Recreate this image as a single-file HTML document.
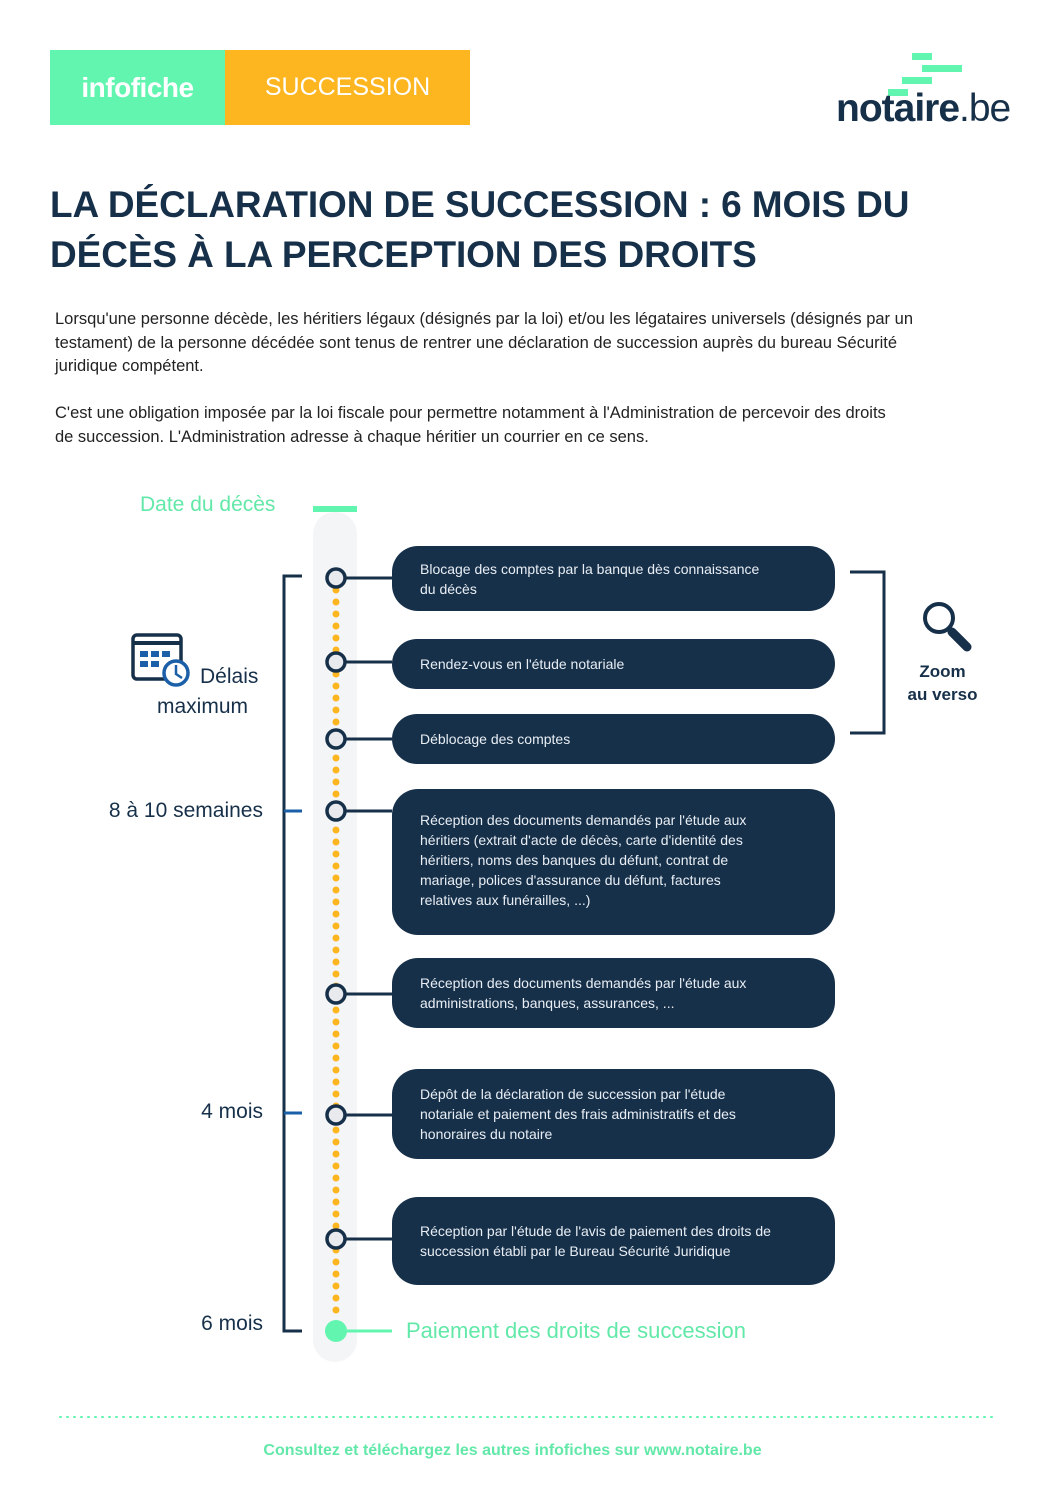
<!DOCTYPE html>
<html><head><meta charset="utf-8"><style>
body{margin:0;width:1058px;height:1497px;background:#fff;position:relative;font-family:"Liberation Sans",sans-serif;color:#17304a;overflow:hidden}
.a{position:absolute}
.box{position:absolute;left:392px;width:443px;background:#17304a;border-radius:26px;color:#e8eef4;font-size:14px;line-height:20px;display:flex;align-items:center;padding-left:28px;box-sizing:border-box;padding-right:62px}
.lbl{position:absolute;right:795px;font-size:21px;text-align:right}
</style></head><body>
<div class="a" style="left:50px;top:50px;width:175px;height:75px;background:#62f5b0;color:#fff;font-size:28px;font-weight:bold;display:flex;align-items:center;justify-content:center;letter-spacing:-0.5px">infofiche</div>
<div class="a" style="left:225px;top:50px;width:245px;height:75px;background:#fdb620;color:#fff;font-size:25px;display:flex;align-items:center;justify-content:center">SUCCESSION</div>
<svg class="a" style="left:880px;top:50px" width="90" height="50"><g fill="#62f5b0"><rect x="32" y="3" width="20" height="7"/><rect x="42" y="15" width="40" height="7"/><rect x="22" y="27" width="30" height="7"/><rect x="8" y="39" width="20" height="7"/></g></svg>
<div class="a" style="left:836px;top:87px;font-size:39px;letter-spacing:-1px"><b>notaire</b>.be</div>
<div class="a" style="left:50px;top:180px;font-size:37px;font-weight:bold;line-height:50px;letter-spacing:-0.1px">LA DÉCLARATION DE SUCCESSION : 6 MOIS DU<br>DÉCÈS À LA PERCEPTION DES DROITS</div>
<div class="a" style="left:55px;top:308px;width:980px;font-size:16.5px;line-height:23.5px;color:#222;white-space:nowrap">Lorsqu'une personne décède, les héritiers légaux (désignés par la loi) et/ou les légataires universels (désignés par un<br>testament) de la personne décédée sont tenus de rentrer une déclaration de succession auprès du bureau Sécurité<br>juridique compétent.<br><br>C'est une obligation imposée par la loi fiscale pour permettre notamment à l'Administration de percevoir des droits<br>de succession. L'Administration adresse à chaque héritier un courrier en ce sens.</div>
<div class="a" style="left:140px;top:493px;font-size:21px;color:#62e8a8">Date du décès</div>
<svg class="a" style="left:0;top:0" width="1058" height="1497">
<rect x="313" y="512" width="44" height="850" rx="22" fill="#f4f5f7"/>
<rect x="313" y="506" width="44" height="6" fill="#62f5b0"/>
<line x1="336" y1="590" x2="336" y2="1322" stroke="#fdb620" stroke-width="7" stroke-linecap="round" stroke-dasharray="0 12"/>
<g stroke="#17304a" stroke-width="3" fill="none">
<polyline points="302,576 284,576 284,1331 302,1331"/>
<polyline points="850,572 884,572 884,733 850,733"/>
<line x1="345" y1="578" x2="392" y2="578"/><line x1="345" y1="662" x2="392" y2="662"/><line x1="345" y1="739" x2="392" y2="739"/><line x1="345" y1="811" x2="392" y2="811"/><line x1="345" y1="994" x2="392" y2="994"/><line x1="345" y1="1115" x2="392" y2="1115"/><line x1="345" y1="1239" x2="392" y2="1239"/>
</g>
<g stroke="#1a5fa8" stroke-width="3"><line x1="284" y1="811" x2="302" y2="811"/><line x1="284" y1="1113" x2="302" y2="1113"/></g>
<g stroke="#17304a" stroke-width="3.5" fill="#e8eaee">
<circle cx="336" cy="578" r="9"/><circle cx="336" cy="662" r="9"/><circle cx="336" cy="739" r="9"/><circle cx="336" cy="811" r="9"/><circle cx="336" cy="994" r="9"/><circle cx="336" cy="1115" r="9"/><circle cx="336" cy="1239" r="9"/>
</g>
<line x1="345" y1="1331" x2="392" y2="1331" stroke="#62f5b0" stroke-width="3"/>
<circle cx="336" cy="1331" r="11" fill="#62f5b0"/>
<g fill="none" stroke="#17304a" stroke-width="4"><circle cx="939" cy="618" r="14"/></g>
<line x1="952" y1="632" x2="967" y2="647" stroke="#17304a" stroke-width="9" stroke-linecap="round"/>
<rect x="133" y="635" width="48" height="44" rx="4" fill="none" stroke="#17304a" stroke-width="3.5"/>
<line x1="133" y1="643" x2="181" y2="643" stroke="#17304a" stroke-width="4"/>
<g fill="#1a5fa8"><rect x="140" y="651" width="8" height="6"/><rect x="151" y="651" width="8" height="6"/><rect x="162" y="651" width="8" height="6"/><rect x="140" y="661" width="8" height="6"/><rect x="151" y="661" width="8" height="6"/></g>
<circle cx="176" cy="673" r="12" fill="#fff" stroke="#1a5fa8" stroke-width="3.5"/>
<polyline points="176,665 176,674 182,678" fill="none" stroke="#1a5fa8" stroke-width="2.5"/>
<line x1="60" y1="1417" x2="995" y2="1417" stroke="#62f5b0" stroke-width="2" stroke-dasharray="1 6" stroke-linecap="round"/>
</svg>
<div class="a" style="left:200px;top:665px;font-size:21px">Délais</div>
<div class="a" style="left:157px;top:695px;font-size:21px">maximum</div>
<div class="lbl" style="top:799px">8 à 10 semaines</div>
<div class="lbl" style="top:1100px">4 mois</div>
<div class="lbl" style="top:1312px">6 mois</div>
<div class="a" style="left:895px;top:660px;width:95px;text-align:center;font-size:17px;font-weight:bold;line-height:23px">Zoom<br>au verso</div>
<div class="box" style="top:546px;height:65px">Blocage des comptes par la banque dès connaissance du décès</div>
<div class="box" style="top:639px;height:50px">Rendez-vous en l'étude notariale</div>
<div class="box" style="top:714px;height:50px">Déblocage des comptes</div>
<div class="box" style="top:789px;height:146px;align-items:flex-start;padding-top:21px">Réception des documents demandés par l'étude aux héritiers (extrait d'acte de décès, carte d'identité des héritiers, noms des banques du défunt, contrat de mariage, polices d'assurance du défunt, factures relatives aux funérailles, ...)</div>
<div class="box" style="top:958px;height:70px">Réception des documents demandés par l'étude aux administrations, banques, assurances, ...</div>
<div class="box" style="top:1069px;height:90px">Dépôt de la déclaration de succession par l'étude notariale et paiement des frais administratifs et des honoraires du notaire</div>
<div class="box" style="top:1197px;height:88px">Réception par l'étude de l'avis de paiement des droits de succession établi par le Bureau Sécurité Juridique</div>
<div class="a" style="left:406px;top:1318px;font-size:22px;color:#62e8a8">Paiement des droits de succession</div>
<div class="a" style="left:0;width:1025px;top:1442px;text-align:center;font-size:16px;font-weight:bold;color:#62e8a8">Consultez et téléchargez les autres infofiches sur www.notaire.be</div>
</body></html>
